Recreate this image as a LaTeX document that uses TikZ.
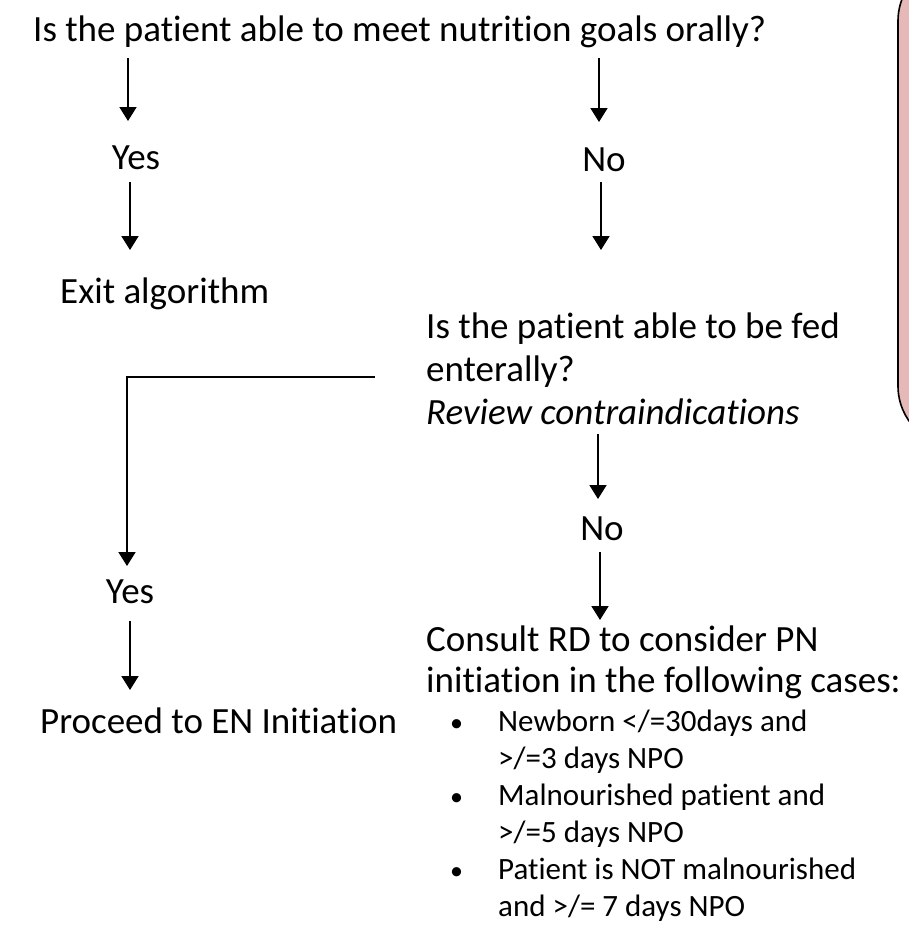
\documentclass[tikz,border=0pt]{standalone}
\usepackage{fontspec}
\setmainfont{Carlito}[Ligatures=NoCommon]
\usetikzlibrary{arrows.meta}
\definecolor{notefill}{HTML}{E6B9B8}
\begin{document}
\begin{tikzpicture}[x=1pt,y=-1pt,
  lbl/.style={inner sep=0pt, anchor=base west, font=\fontsize{37}{44}\selectfont},
  lblc/.style={inner sep=0pt, anchor=base, font=\fontsize{37}{44}\selectfont},
  itm/.style={inner sep=0pt, anchor=base west, font=\fontsize{31}{37}\selectfont},
  dot/.style={inner sep=0pt, anchor=base west, font=\fontsize{26}{37}\selectfont},
  flow/.style={line width=1.8pt, line join=miter, -{Triangle[width=17pt,length=14pt]}},
  notebox/.style={draw=black, line width=1.6pt, fill=notefill, rounded corners=61pt}]
\useasboundingbox (0,0) rectangle (909,950);

% side note panel, mostly outside the frame
\path[notebox] (898,-40) rectangle (1000,447);

% first question
\node[lbl] (q1) at (33,42) {Is the patient able to meet nutrition goals orally?};
\node[lblc] (yes1) at (136,169) {Yes};
\node[lbl] (exit) at (60,303) {Exit algorithm};
\node[lblc] (no1) at (604,171) {No};

% second question
\node[lbl] (q2a) at (426,338) {Is the patient able to be fed};
\node[lbl] (q2b) at (426,381) {enterally?};
\node[lbl, font=\fontsize{37}{44}\selectfont\itshape] (q2c) at (426,424) {Review contraindications};

\node[lblc] (no2) at (602,540) {No};
\node[lblc] (yes2) at (130,603) {Yes};

% outcomes
\node[lbl] (rd1) at (426,651) {Consult RD to consider PN};
\node[lbl] (rd2) at (426,692) {initiation in the following cases:};
\node[lbl] (en) at (40,733) {Proceed to EN Initiation};

\node[dot] (d1) at (450,731) {•};
\node[itm] (c1a) at (498,731) {Newborn </=30days and};
\node[itm] (c1b) at (498,768) {>/=3 days NPO};
\node[dot] (d2) at (450,805) {•};
\node[itm] (c2a) at (498,805) {Malnourished patient and};
\node[itm] (c2b) at (498,842) {>/=5 days NPO};
\node[dot] (d3) at (450,879) {•};
\node[itm] (c3a) at (498,879) {Patient is NOT malnourished};
\node[itm] (c3b) at (498,916) {and >/= 7 days NPO};

% connector end points
\coordinate (a1s) at (128,58);  \coordinate (a1e) at (128,121);
\coordinate (a2s) at (130,182); \coordinate (a2e) at (130,250);
\coordinate (b1s) at (599,58);  \coordinate (b1e) at (599,122);
\coordinate (b2s) at (601,182); \coordinate (b2e) at (601,250);
\coordinate (e0) at (375,377);  \coordinate (e1) at (127,377); \coordinate (e2) at (127,566);
\coordinate (b3s) at (598,434); \coordinate (b3e) at (598,499);
\coordinate (b4s) at (600,552); \coordinate (b4e) at (600,620);
\coordinate (a3s) at (130,621); \coordinate (a3e) at (130,690);

\draw[flow] (a1s) -- (a1e);
\draw[flow] (a2s) -- (a2e);
\draw[flow] (b1s) -- (b1e);
\draw[flow] (b2s) -- (b2e);
\draw[flow] (e0) -- (e1) -- (e2);
\draw[flow] (b3s) -- (b3e);
\draw[flow] (b4s) -- (b4e);
\draw[flow] (a3s) -- (a3e);
\end{tikzpicture}
\end{document}
